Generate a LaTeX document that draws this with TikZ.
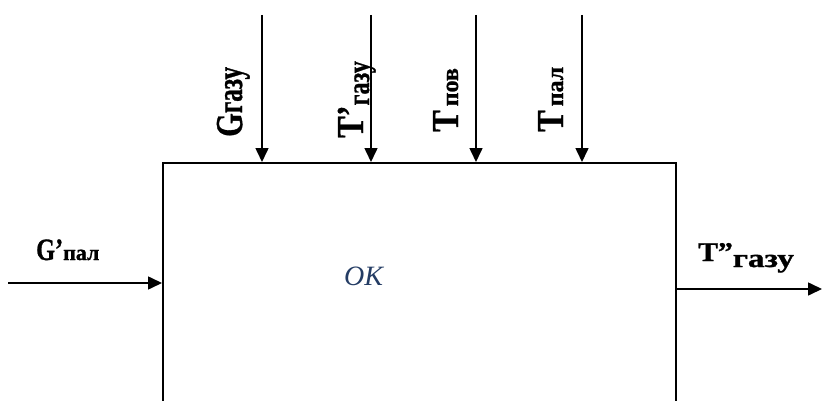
\documentclass[tikz,border=0pt]{standalone}
\usepackage{fontspec}
\setmainfont{Liberation Serif}
\newfontfamily\labfont{Liberation Serif Bold}[FakeBold=1]
\usetikzlibrary{arrows.meta}
\definecolor{okblue}{RGB}{36,60,100}
\tikzset{
  conn/.style={line width=1.6pt,-{Triangle[length=14pt,width=13pt]}},
  vlab/.style={rotate=90,anchor=base west,inner sep=0pt,font=\labfont},
  hlab/.style={anchor=base west,inner sep=0pt,font=\labfont},
}
\newcommand{\fs}[2]{{\fontsize{#1}{#1}\selectfont #2}}
\begin{document}
\begin{tikzpicture}[x=1pt,y=-1pt]
\useasboundingbox (0,0) rectangle (824,401);
\clip (0,0) rectangle (824,401);
\node[draw,line width=1.6pt,minimum width=513pt,minimum height=280pt,anchor=north west,inner sep=0pt] (box) at (162,162) {};
\node[font=\itshape,text=okblue,inner sep=0pt,anchor=base west] (ok) at (344,285) {\fs{28}{ОК}};
% top inputs
\coordinate (t1) at (262,15);
\coordinate (t2) at (371,15);
\coordinate (t3) at (476,15);
\coordinate (t4) at (582,15);
\draw[conn] (t1) -- (t1 |- box.north);
\draw[conn] (t2) -- (t2 |- box.north);
\draw[conn] (t3) -- (t3 |- box.north);
\draw[conn] (t4) -- (t4 |- box.north);
% left input, right output
\coordinate (lin) at (8,283);
\coordinate (rout) at (822,289);
\draw[conn] (lin) -- (lin -| box.west);
\draw[conn] (rout -| box.east) -- (rout);
% vertical labels
\node[vlab] (lg) at (242,137) {\fs{38}{\scalebox{0.8}[1]{G}}\fs{36}{\scalebox{0.7}[1]{газу}}};
\node[vlab] (lt1) at (363,138) {\fs{38}{\scalebox{0.85}[1]{T’}}\raisebox{-6pt}{\fs{31}{\scalebox{0.78}[1]{газу}}}};
\node[vlab] (lt2) at (458,132) {\fs{38}{\scalebox{0.85}[1]{T}}\fs{24}{\scalebox{1.0}[1]{\,пов}}};
\node[vlab] (lt3) at (563,132) {\fs{38}{\scalebox{0.85}[1]{T}}\fs{24}{\scalebox{1.0}[1]{\,пал}}};
% horizontal labels
\node[hlab] (lgp) at (36,260) {\fs{27}{\scalebox{0.9}[1.15]{G’}}\fs{22}{\scalebox{1.0}[1]{пал}}};
\node[hlab] (ltg) at (698,261) {\fs{27}{\scalebox{1.1}[1]{T”}}\raisebox{-6pt}{\fs{26}{\scalebox{1.28}[1]{газу}}}};
\end{tikzpicture}
\end{document}
